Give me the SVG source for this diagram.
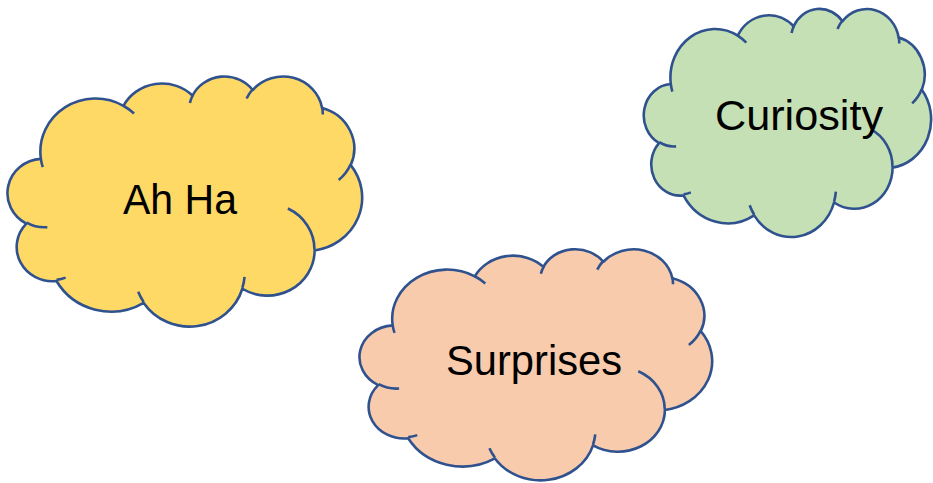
<svg xmlns="http://www.w3.org/2000/svg" xmlns:xlink="http://www.w3.org/1999/xlink" width="933" height="483" viewBox="0 0 933 483">
  <style>
    .shape { vector-effect: non-scaling-stroke; stroke: #2F528F; stroke-width: 2.6; stroke-linejoin: round; }
    .innerpath { vector-effect: non-scaling-stroke; fill: none; stroke: #2F528F; stroke-width: 2.6; }
    .label { font-family: "Liberation Sans", Arial, sans-serif; font-size: 42px; fill: #000000; }
  </style>
  <defs>
    <path id="cloud" class="shape" vector-effect="non-scaling-stroke" d="M 3900 14370 A 6753 9190 0 0 1 14005 5202 A 5333 7267 0 0 1 22456 3430 A 4365 5945 0 0 1 29833 2477 A 4857 6595 0 0 1 38318 5574 A 5333 7273 0 0 1 41818 15457 A 6775 9220 0 0 1 37405 30203 A 5785 7867 0 0 1 28557 36814 A 6752 9215 0 0 1 16483 39267 A 7720 10543 0 0 1 5810 35478 A 4360 5918 0 0 1 2118 25556 A 4345 5945 0 0 1 3900 14370 Z"/>
    <path id="cloudInner" class="innerpath" vector-effect="non-scaling-stroke" d="M 4693 26177 A 4345 5945 0 0 1 2159 25379 M 6928 34899 A 4360 5918 0 0 1 5820 35280 M 16478 39090 A 6752 9215 0 0 1 15809 37347 M 28827 34751 A 6752 9215 0 0 1 28560 36660 M 34129 22954 A 5785 7867 0 0 1 37381 30090 M 41798 15354 A 5333 7273 0 0 1 40349 18031 M 38324 5426 A 4857 6595 0 0 1 38400 6690 M 29078 3952 A 4857 6595 0 0 1 29821 2339 M 22141 4720 A 4365 5945 0 0 1 22500 3331 M 14000 5192 A 6753 9190 0 0 1 15301 6541 M 4127 15789 A 6753 9190 0 0 1 3900 14371"/>
  </defs>

  <g id="node-ahha">
    <g transform="translate(9,75.7) scale(0.0081713,0.0057870)">
      <use xlink:href="#cloud" fill="#FFD966"/>
      <use xlink:href="#cloudInner"/>
    </g>
    <text class="label" x="123" y="213.5" textLength="114" lengthAdjust="spacingAndGlyphs">Ah Ha</text>
  </g>

  <g id="node-curiosity">
    <g transform="translate(645,8.2) scale(0.0066204,0.0052778)">
      <use xlink:href="#cloud" fill="#C5E0B4"/>
      <use xlink:href="#cloudInner"/>
    </g>
    <text class="label" x="715" y="130" textLength="168" lengthAdjust="spacingAndGlyphs">Curiosity</text>
  </g>

  <g id="node-surprises">
    <g transform="translate(361,248.5) scale(0.0081250,0.0053472)">
      <use xlink:href="#cloud" fill="#F8CBAD"/>
      <use xlink:href="#cloudInner"/>
    </g>
    <text class="label" x="446" y="375" textLength="176" lengthAdjust="spacingAndGlyphs">Surprises</text>
  </g>

  <g id="connectors"/>
</svg>
